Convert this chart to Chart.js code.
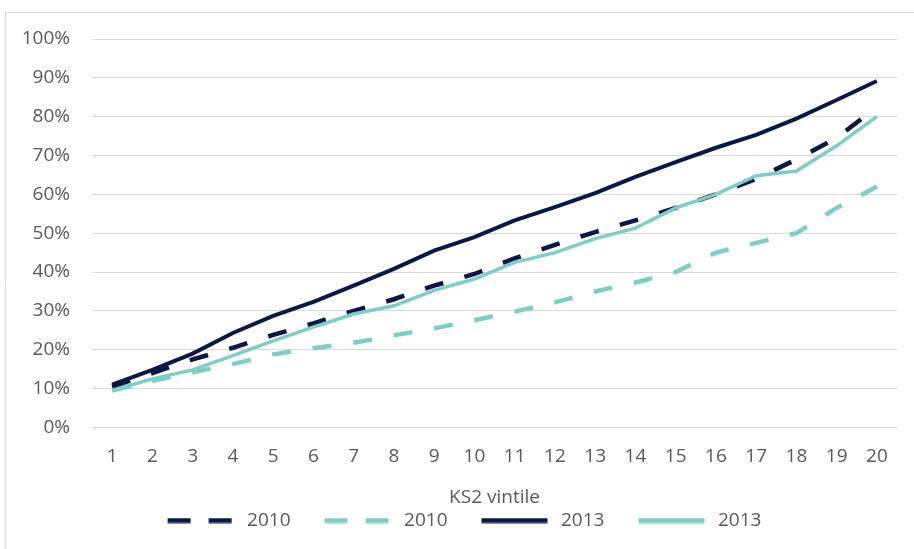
<!DOCTYPE html>
<html>
<head>
<meta charset="utf-8">
<script src="https://cdn.jsdelivr.net/npm/chart.js@4"></script>
<style>
  html, body { margin: 0; padding: 0; background: #fff; }
  #wrap { width: 914px; height: 549px; position: relative; }
</style>
</head>
<body>
<div id="wrap"><canvas id="chart"></canvas></div>
<script>
// Data (percent of pupils, by KS2 vintile)
const vintiles = ["1","2","3","4","5","6","7","8","9","10","11","12","13","14","15","16","17","18","19","20"];
const darkDashed2010 = [10.5, 14, 17.5, 20.5, 23.8, 26.8, 30, 33, 36.5, 39.5, 43.5, 47, 50.3, 53.3, 56.5, 60, 64, 69, 74.5, 82.5];
const lightDashed2010 = [9.5, 12, 14.2, 16.3, 18.8, 20.4, 21.8, 23.7, 25.5, 27.6, 29.8, 32.2, 35, 37.3, 40, 45, 47.5, 50, 56.5, 62];
const darkSolid2013 = [11, 14.8, 19, 24.3, 28.7, 32.3, 36.5, 40.8, 45.5, 49, 53.3, 56.7, 60.3, 64.5, 68.3, 72, 75.3, 79.5, 84.3, 89.2];
const lightSolid2013 = [9.5, 12.5, 14.8, 18.5, 22.3, 25.8, 29.2, 31.3, 35.3, 38.2, 42.5, 45, 48.6, 51.3, 56.5, 60, 64.8, 66, 72.5, 80];
const yTicks = [0, 10, 20, 30, 40, 50, 60, 70, 80, 90, 100];

const NAVY = "#0b1845";
const TEAL = "#7fcdc5";
const TEXT = "#595959";
const FONT = { family: "'Open Sans', sans-serif", size: 19 };

// Small canvas used as legend symbol (line sample with empty space on the left)
const legendSymbol = (color, dashed) => {
  const c = document.createElement("canvas");
  c.width = 102;
  c.height = 6;
  const g = c.getContext("2d");
  g.strokeStyle = color;
  g.lineWidth = 5;
  g.setLineDash(dashed ? [23, 18] : []);
  g.beginPath();
  g.moveTo(32, 3);
  g.lineTo(98, 3);
  g.stroke();
  return c;
};

// Light frame on top and left edge
const framePlugin = {
  id: "frame",
  beforeDraw(chart) {
    const ctx = chart.ctx;
    ctx.save();
    ctx.fillStyle = "#fff";
    ctx.fillRect(0, 0, chart.width, chart.height);
    ctx.strokeStyle = "#d9d9d9";
    ctx.lineWidth = 1;
    ctx.beginPath();
    ctx.moveTo(5.5, chart.height);
    ctx.lineTo(5.5, 12.5);
    ctx.lineTo(chart.width, 12.5);
    ctx.stroke();
    ctx.restore();
  },
};

const datasets = [
  { label: "2010", data: darkDashed2010, borderColor: NAVY, borderWidth: 4.5, borderDash: [19, 22], order: 2, pointStyle: legendSymbol(NAVY, true) },
  { label: "2010", data: lightDashed2010, borderColor: TEAL, borderWidth: 4.5, borderDash: [19, 22], order: 3, pointStyle: legendSymbol(TEAL, true) },
  { label: "2013", data: darkSolid2013, borderColor: NAVY, borderWidth: 4, order: 1, pointStyle: legendSymbol(NAVY, false) },
  { label: "2013", data: lightSolid2013, borderColor: TEAL, borderWidth: 3.5, order: 0, pointStyle: legendSymbol(TEAL, false) },
];

new Chart(document.getElementById("chart"), {
  type: "line",
  data: {
    labels: vintiles,
    datasets: datasets.map((d) => ({ ...d, fill: false, tension: 0, pointRadius: 0, pointHoverRadius: 0 })),
  },
  plugins: [framePlugin],
  options: {
    responsive: true,
    maintainAspectRatio: false,
    animation: false,
    layout: { padding: { top: 39, right: 17, bottom: 9, left: 0 } },
    plugins: {
      tooltip: { enabled: false },
      legend: {
        position: "bottom",
        labels: {
          usePointStyle: true,
          pointStyleWidth: 102,
          padding: 2,
          color: TEXT,
          font: FONT,
          sort: (a, b) => a.datasetIndex - b.datasetIndex,
        },
      },
    },
    scales: {
      x: {
        offset: true,
        grid: { display: false, drawTicks: false },
        border: { display: false },
        ticks: { color: TEXT, font: FONT, padding: 18, maxRotation: 0, autoSkip: false },
        title: { display: true, text: "KS2 vintile", color: TEXT, font: FONT, padding: { top: 0, bottom: 0 } },
      },
      y: {
        min: 0,
        max: 100,
        afterFit: (s) => { s.width = 92; },
        afterBuildTicks: (s) => { s.ticks = yTicks.map((v) => ({ value: v })); },
        grid: { color: "#d9d9d9", lineWidth: 1, drawTicks: false },
        border: { display: false },
        ticks: { color: TEXT, font: FONT, padding: 22, callback: (v) => v + "%" },
      },
    },
  },
});
</script>
</body>
</html>
